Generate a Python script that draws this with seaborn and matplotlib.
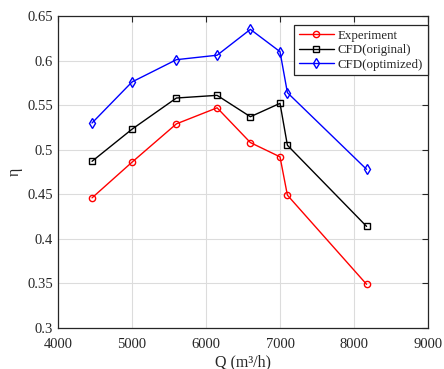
import matplotlib
matplotlib.use("Agg")
import matplotlib.pyplot as plt
import seaborn as sns
import pandas as pd

Q = [4460, 5000, 5600, 6150, 6600, 7000, 7100, 8170]
experiment = [0.446, 0.486, 0.529, 0.547, 0.508, 0.492, 0.449, 0.349]
cfd_original = [0.487, 0.523, 0.558, 0.561, 0.537, 0.552, 0.505, 0.414]
cfd_optimized = [0.530, 0.576, 0.601, 0.606, 0.635, 0.610, 0.564, 0.478]
series_names = ["Experiment", "CFD(original)", "CFD(optimized)"]

sns.set_style("white")
plt.rcParams['font.family'] = ['Liberation Serif', 'DejaVu Serif']
plt.rcParams['mathtext.fontset'] = 'stix'

df = pd.DataFrame({
    "Q": Q * 3,
    "eta": experiment + cfd_original + cfd_optimized,
    "series": [series_names[0]] * len(Q) + [series_names[1]] * len(Q) + [series_names[2]] * len(Q),
})

fig = plt.figure(figsize=(4.44, 3.69), dpi=100)
ax = fig.add_axes([58 / 444, 41 / 369, 370 / 444, 312 / 369])

palette = {series_names[0]: "#ff0000", series_names[1]: "#000000", series_names[2]: "#0000ff"}
markers = {series_names[0]: "o", series_names[1]: "s", series_names[2]: "d"}
for name in series_names:
    sub = df[df["series"] == name]
    sns.lineplot(data=sub, x="Q", y="eta", ax=ax, color=palette[name], marker=markers[name],
                 markersize=4.5 if markers[name] != "d" else 5, markerfacecolor="none",
                 markeredgecolor=palette[name], markeredgewidth=1.0, linewidth=1.0,
                 label=name, sort=False)

ax.set_xlim(4000, 9000)
ax.set_ylim(0.3, 0.65)
ax.set_xticks([4000, 5000, 6000, 7000, 8000, 9000])
ax.set_yticks([0.3, 0.35, 0.4, 0.45, 0.5, 0.55, 0.6, 0.65])
ax.set_yticklabels(["0.3", "0.35", "0.4", "0.45", "0.5", "0.55", "0.6", "0.65"])
ax.grid(True, color="#dcdcdc", linewidth=0.8)
ax.tick_params(direction="in", length=4, width=0.8, labelsize=10.5, colors="#262626",
               top=True, right=True, labelcolor="#262626")
ax.tick_params(axis="x", pad=7.5)
for s in ax.spines.values():
    s.set_color("#262626")
    s.set_linewidth(0.9)
ax.set_xlabel("Q (m³/h)", fontsize=11.5, color="#262626", labelpad=2)
ax.set_ylabel("η", fontsize=11.5, color="#262626", labelpad=3)

leg = ax.legend(loc="upper right", bbox_to_anchor=(0.999, 0.971), fontsize=9.3, frameon=True,
                fancybox=False, edgecolor="#262626", framealpha=1, borderaxespad=0,
                handlelength=2.7, handletextpad=0.32, labelspacing=0.2, borderpad=0.35)
leg.get_frame().set_linewidth(0.9)

fig.savefig("out.png", dpi=100)
